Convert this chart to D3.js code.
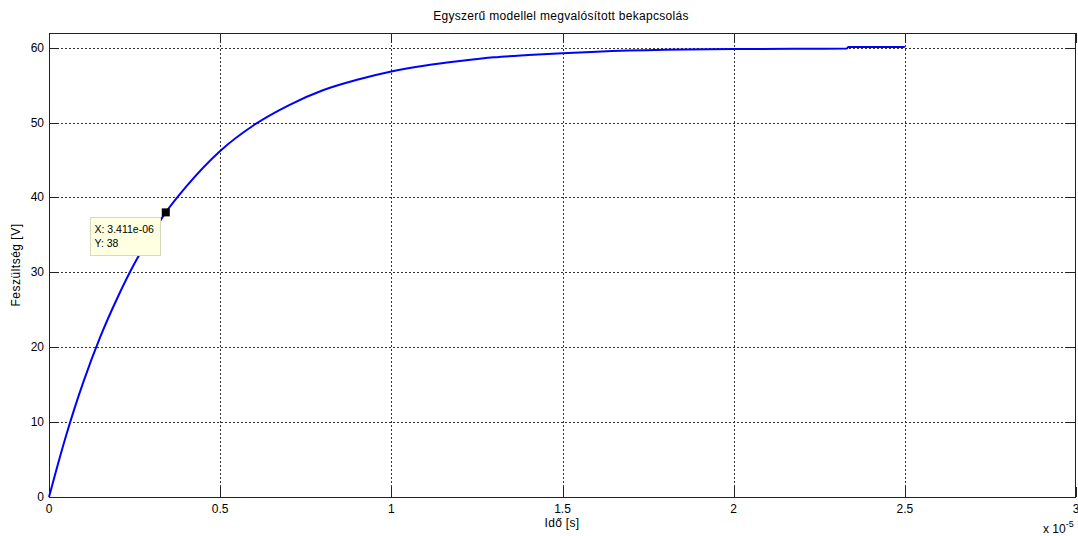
<!DOCTYPE html>
<html><head><meta charset="utf-8">
<script src="https://cdn.jsdelivr.net/npm/d3@7"></script>
<style>body{margin:0;background:#fff}svg{display:block}text{font-family:"Liberation Sans",Arial,sans-serif;fill:#000}</style>
</head><body>
<svg id="c" width="1078" height="536"></svg>
<script>
const title = "Egyszerű modellel megvalósított bekapcsolás";
const xLabel = "Idő [s]";
const yLabel = "Feszültség [V]";
const xTicks = [0, 0.5, 1, 1.5, 2, 2.5, 3];
const yTicks = [0, 10, 20, 30, 40, 50, 60];
// time in units of 1e-5 s
const timeVals = [0, 0.025, 0.05, 0.075, 0.1, 0.15, 0.2, 0.25, 0.3, 0.3411, 0.4, 0.5, 0.6, 0.7, 0.8, 0.9, 1.0, 1.1, 1.2, 1.3, 1.4, 1.5, 1.6, 1.8, 2.0, 2.2, 2.33, 2.335, 2.5];
const voltVals = [0, 4.2, 8.2, 11.9, 15.3, 21.4, 26.6, 31.2, 35.1, 38, 41.4, 46.2, 49.7, 52.3, 54.3, 55.7, 56.8, 57.6, 58.2, 58.7, 59.0, 59.25, 59.45, 59.7, 59.8, 59.85, 59.87, 60.07, 60.07];
const tipX = 0.3411, tipY = 38;
const tipLines = ["X: 3.411e-06", "Y: 38"];

const svg = d3.select("#c");
const L = 49, R = 1076, T = 33, B = 497;
const x = d3.scaleLinear().domain([0, 3]).range([L, R]);
const y = d3.scaleLinear().domain([0, 61.95]).range([B, T]);

// grid
const g = svg.append("g");
g.selectAll(".gx").data(xTicks.slice(1, -1)).enter().append("line")
  .attr("x1", d => Math.round(x(d)) + 0.5).attr("x2", d => Math.round(x(d)) + 0.5)
  .attr("y1", T).attr("y2", B).attr("stroke", "#333").attr("stroke-dasharray", "2,2").attr("stroke-width", 1);
g.selectAll(".gy").data(yTicks.slice(1)).enter().append("line")
  .attr("y1", d => Math.round(y(d)) + 0.5).attr("y2", d => Math.round(y(d)) + 0.5)
  .attr("x1", L).attr("x2", R).attr("stroke", "#333").attr("stroke-dasharray", "2,2").attr("stroke-width", 1);

// tick marks (inside, both sides)
const tl = 10;
xTicks.forEach(d => {
  const px = Math.round(x(d)) + 0.5;
  svg.append("line").attr("x1", px).attr("x2", px).attr("y1", B).attr("y2", B - tl).attr("stroke", "#222");
  svg.append("line").attr("x1", px).attr("x2", px).attr("y1", T).attr("y2", T + tl).attr("stroke", "#222");
});
yTicks.forEach(d => {
  const py = Math.round(y(d)) + 0.5;
  svg.append("line").attr("x1", L).attr("x2", L + tl).attr("y1", py).attr("y2", py).attr("stroke", "#222");
  svg.append("line").attr("x1", R).attr("x2", R - tl).attr("y1", py).attr("y2", py).attr("stroke", "#222");
});

// box
svg.append("rect").attr("x", L + 0.5).attr("y", T + 0.5).attr("width", R - L - 1).attr("height", B - T)
  .attr("fill", "none").attr("stroke", "#222").attr("stroke-width", 1);

// tick labels
svg.selectAll(".xl").data(xTicks).enter().append("text")
  .attr("x", d => x(d)).attr("y", B + 16).attr("text-anchor", "middle").attr("font-size", 12).text(d => d);
svg.selectAll(".yl").data(yTicks).enter().append("text")
  .attr("x", L - 5).attr("y", d => y(d) + 4).attr("text-anchor", "end").attr("font-size", 12).text(d => d);

// exponent
const ex = svg.append("text").attr("x", 1043).attr("y", 533).attr("font-size", 12);
ex.append("tspan").text("x 10");
ex.append("tspan").attr("dy", -6).attr("font-size", 9).text("-5");

// labels
svg.append("text").attr("x", 561).attr("y", 20).attr("text-anchor", "middle").attr("font-size", 12).attr("letter-spacing", 0.3).text(title);
svg.append("text").attr("x", 562).attr("y", 527).attr("text-anchor", "middle").attr("font-size", 12).attr("letter-spacing", 0.3).text(xLabel);
svg.append("text").attr("transform", `translate(20,265) rotate(-90)`).attr("text-anchor", "middle").attr("font-size", 12).attr("letter-spacing", 0.5).text(yLabel);

// curve
const data = timeVals.map((t, i) => [t, voltVals[i]]);
svg.append("path").datum(data)
  .attr("d", d3.line().x(d => x(d[0])).y(d => y(d[1])).curve(d3.curveMonotoneX))
  .attr("fill", "none").attr("stroke", "#0000ff").attr("stroke-width", 2);

// data tip
const mx = x(tipX), my = y(tipY);
svg.append("rect").attr("x", mx - 4).attr("y", my - 4).attr("width", 8).attr("height", 8).attr("fill", "#000");
const bx = 90.5, by = 217.5;
svg.append("rect").attr("x", bx).attr("y", by).attr("width", 70).attr("height", 38)
  .attr("fill", "#ffffe1").attr("stroke", "#d8d8c0");
svg.selectAll(".tip").data(tipLines).enter().append("text")
  .attr("x", bx + 4).attr("y", (d, i) => by + 15 + i * 14).attr("font-size", 10.5).attr("fill", "#000").text(d => d);
</script>
</body></html>
